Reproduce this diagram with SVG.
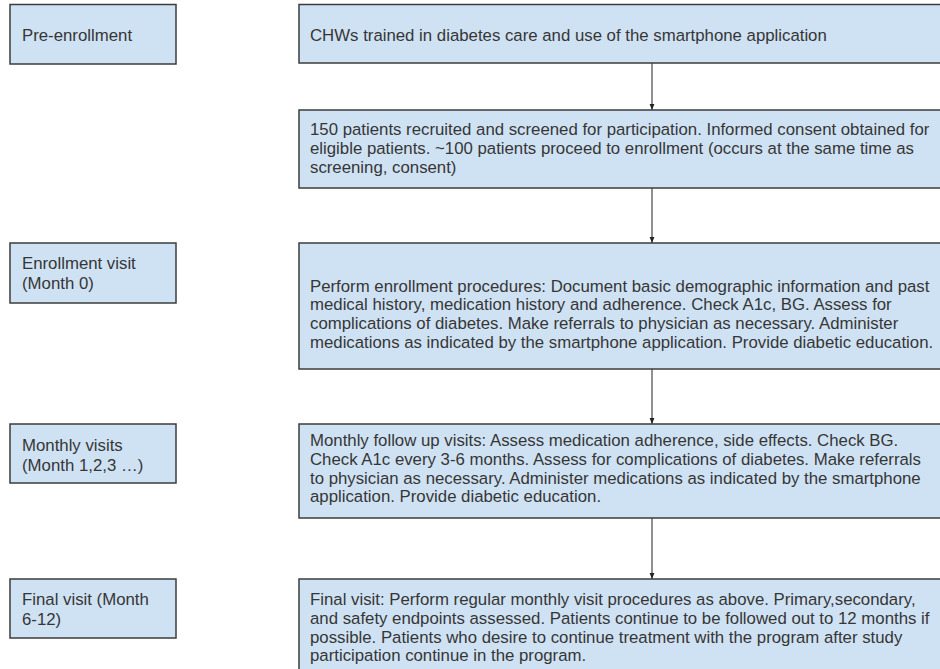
<svg xmlns="http://www.w3.org/2000/svg" width="940" height="669" viewBox="0 0 940 669">
<style>
.box{fill:#cfe2f3;stroke:#3c3c3c;stroke-width:1.5}
.t{font-family:"Liberation Sans",Arial,sans-serif;font-size:16.8px;fill:#363636}
.c{stroke:#222222;stroke-width:1;fill:none}
</style>
<defs>
<marker id="ah" viewBox="0 0 10 10" refX="10" refY="5" markerWidth="6" markerHeight="6" orient="auto" markerUnits="userSpaceOnUse">
<path d="M0,1 L10,5 L0,9 Z" fill="#222222"/>
</marker>
</defs>
<rect width="940" height="669" fill="#ffffff"/>
<g id="connectors">
<line class="c" x1="652" y1="63" x2="652" y2="110" marker-end="url(#ah)"/>
<line class="c" x1="652" y1="188" x2="652" y2="243" marker-end="url(#ah)"/>
<line class="c" x1="652" y1="369" x2="652" y2="424" marker-end="url(#ah)"/>
<line class="c" x1="652" y1="518" x2="652" y2="579" marker-end="url(#ah)"/>
</g>
<g id="pre-enrollment">
<rect class="box" x="10" y="4.5" width="166" height="59.5"/>
<text class="t" x="22" y="41">Pre-enrollment</text>
</g>
<g id="chw-training">
<rect class="box" x="299" y="4.5" width="660" height="58.5"/>
<text class="t" x="310" y="41">CHWs trained in diabetes care and use of the smartphone application</text>
</g>
<g id="recruitment">
<rect class="box" x="299" y="110" width="660" height="78"/>
<text class="t" x="310" y="135">150 patients recruited and screened for participation. Informed consent obtained for</text>
<text class="t" x="310" y="153.8">eligible patients. ~100 patients proceed to enrollment (occurs at the same time as</text>
<text class="t" x="310" y="172.6">screening, consent)</text>
</g>
<g id="enrollment-visit">
<rect class="box" x="10" y="243" width="166" height="60"/>
<text class="t" x="22" y="269">Enrollment visit</text>
<text class="t" x="22" y="289">(Month 0)</text>
</g>
<g id="enrollment-procedures">
<rect class="box" x="299" y="243" width="660" height="126"/>
<text class="t" x="310" y="291.5">Perform enrollment procedures: Document basic demographic information and past</text>
<text class="t" x="310" y="310.3">medical history, medication history and adherence. Check A1c, BG. Assess for</text>
<text class="t" x="310" y="329.1">complications of diabetes. Make referrals to physician as necessary. Administer</text>
<text class="t" x="310" y="347.9">medications as indicated by the smartphone application. Provide diabetic education.</text>
</g>
<g id="monthly-visits">
<rect class="box" x="10" y="424" width="166" height="59"/>
<text class="t" x="22" y="451">Monthly visits</text>
<text class="t" x="22" y="471">(Month 1,2,3 …)</text>
</g>
<g id="monthly-procedures">
<rect class="box" x="299" y="424" width="660" height="94"/>
<text class="t" x="310" y="446">Monthly follow up visits: Assess medication adherence, side effects. Check BG.</text>
<text class="t" x="310" y="464.8">Check A1c every 3-6 months. Assess for complications of diabetes. Make referrals</text>
<text class="t" x="310" y="483.6">to physician as necessary. Administer medications as indicated by the smartphone</text>
<text class="t" x="310" y="502.4">application. Provide diabetic education.</text>
</g>
<g id="final-visit">
<rect class="box" x="10" y="579" width="166" height="59"/>
<text class="t" x="22" y="605">Final visit (Month</text>
<text class="t" x="22" y="625">6-12)</text>
</g>
<g id="final-procedures">
<rect class="box" x="299" y="579" width="660" height="110"/>
<text class="t" x="310" y="605">Final visit: Perform regular monthly visit procedures as above. Primary,secondary,</text>
<text class="t" x="310" y="623.8">and safety endpoints assessed. Patients continue to be followed out to 12 months if</text>
<text class="t" x="310" y="642.6">possible. Patients who desire to continue treatment with the program after study</text>
<text class="t" x="310" y="661.4">participation continue in the program.</text>
</g>
</svg>
